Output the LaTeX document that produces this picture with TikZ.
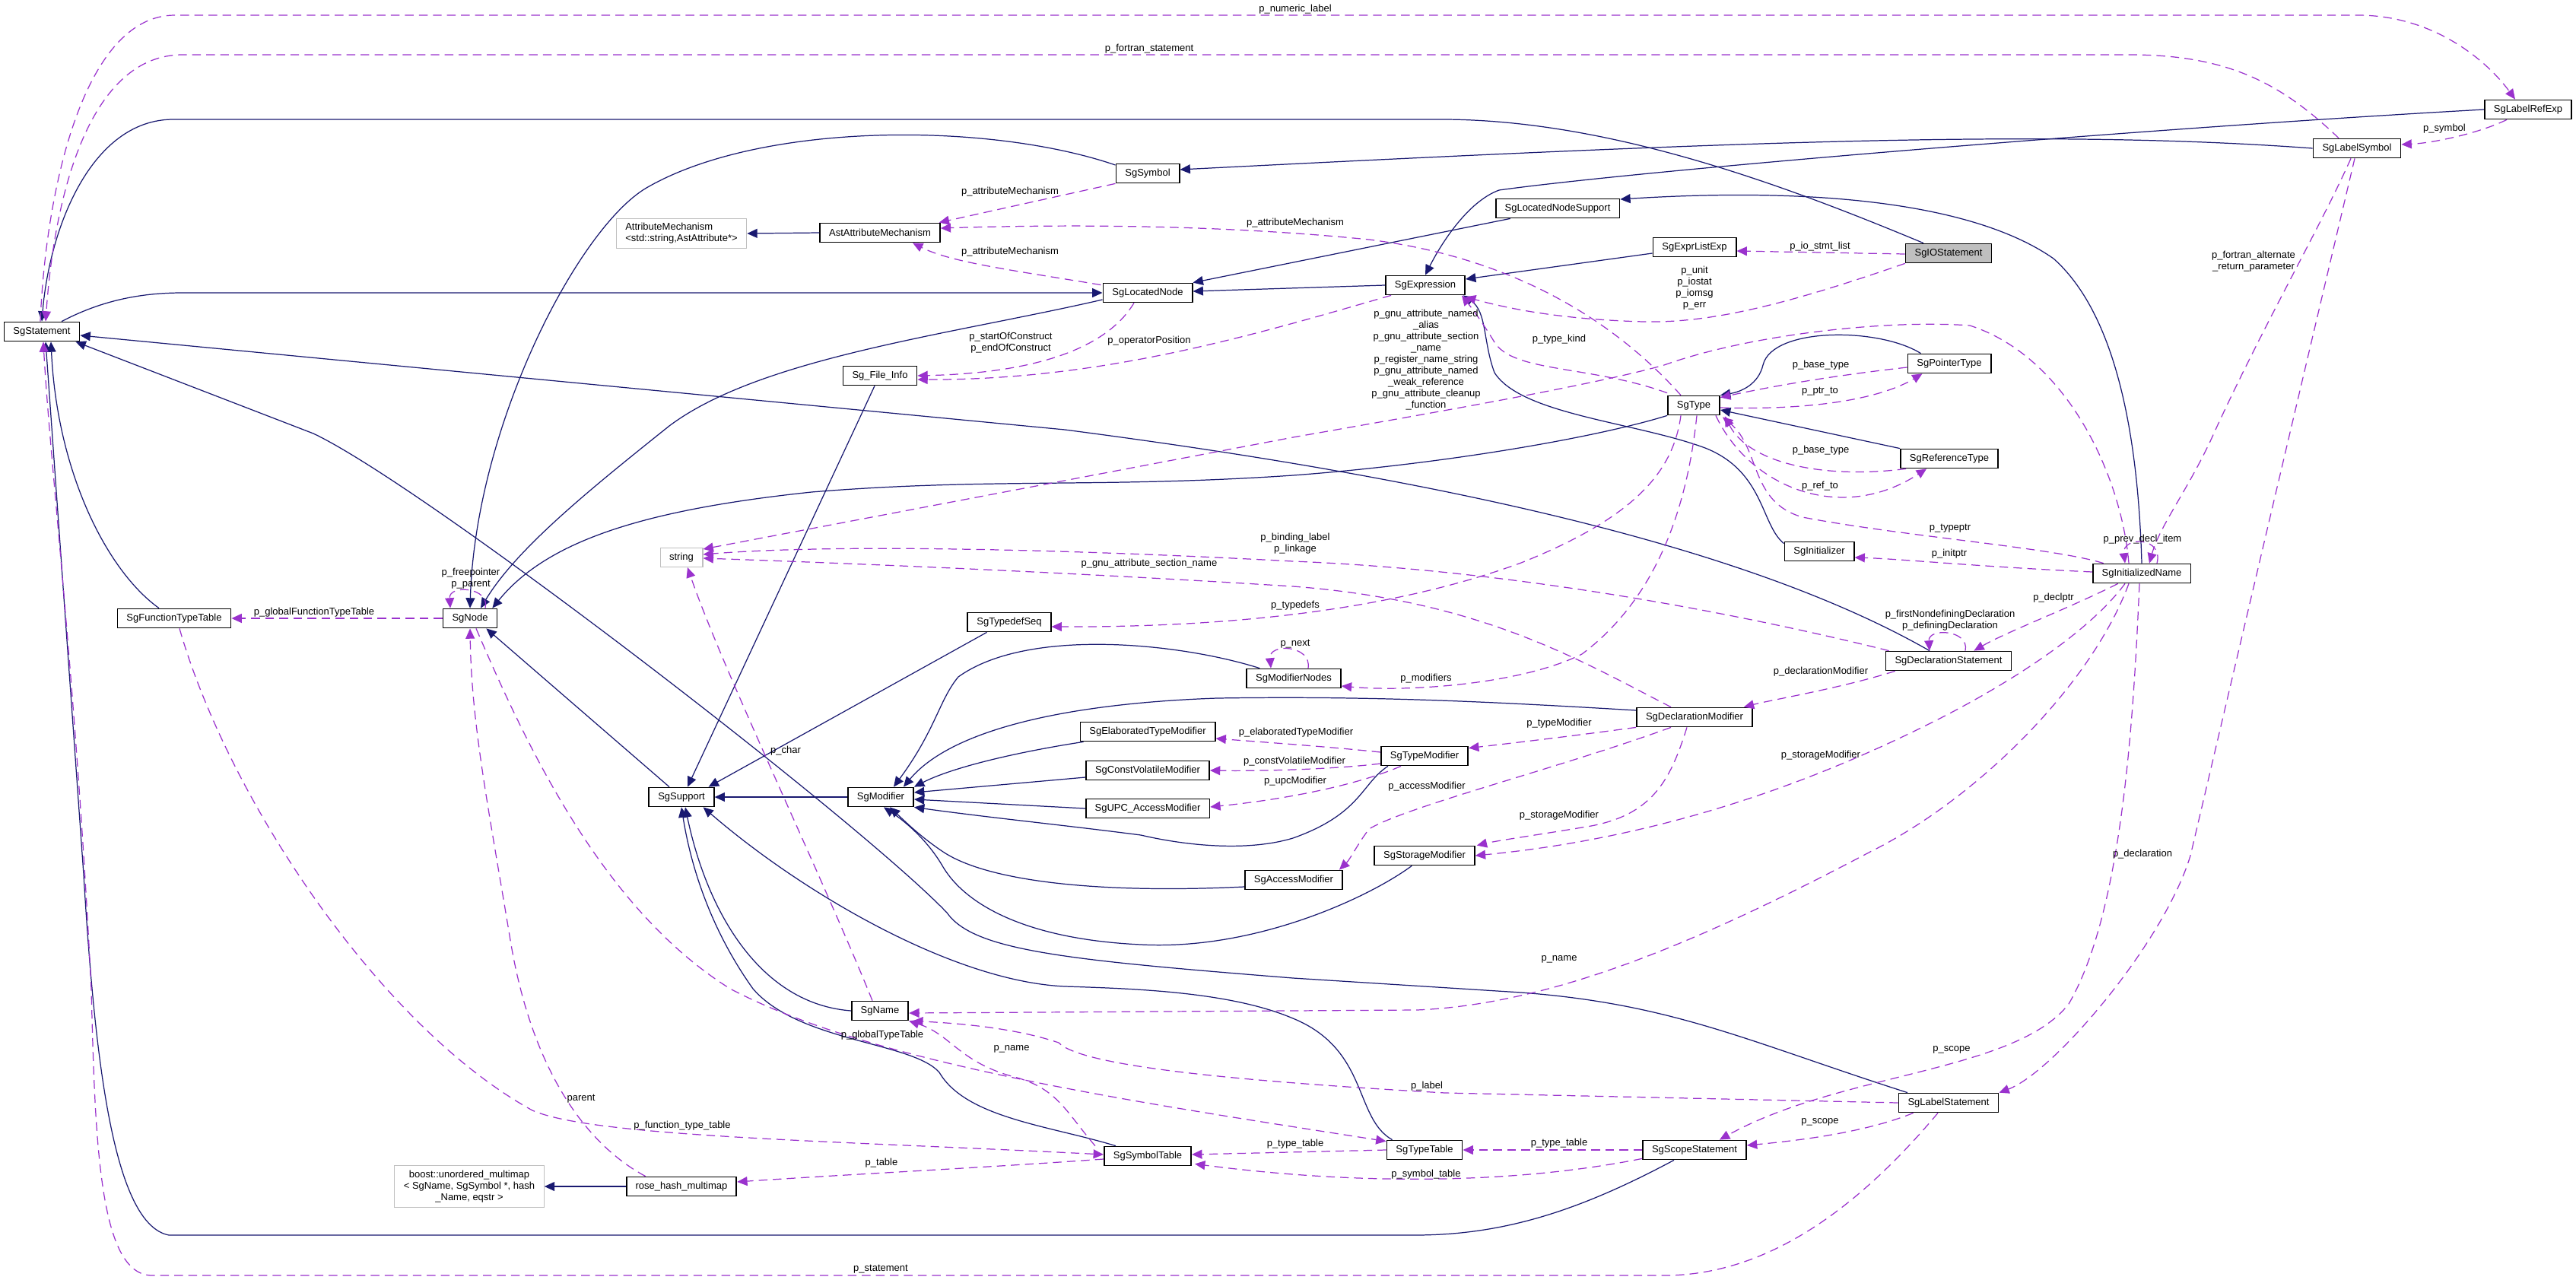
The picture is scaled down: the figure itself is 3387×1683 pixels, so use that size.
\documentclass[tikz,border=0pt]{standalone}
\usepackage{fontspec}
\setmainfont{Liberation Sans}
\usepackage{tikz}
\usetikzlibrary{arrows.meta, calc}
\definecolor{dxnavy}{RGB}{25,25,112}
\definecolor{dxorchid}{RGB}{154,50,205}
\definecolor{dxgray}{RGB}{191,191,191}

\begin{document}
\begin{tikzpicture}[
  x=0.02cm, y=-0.02cm,
  cls/.style={rectangle, draw=black, line width=1pt, fill=white,
              minimum height=0.5cm, inner xsep=0.24cm, inner ysep=0pt,
              font=\fontsize{7.4}{8.5}\selectfont},
  ext/.style={cls, draw=dxgray, line width=0.7pt},
  cur/.style={cls, fill=dxgray},
  lab/.style={inner sep=0pt, align=center, font=\fontsize{7.4}{8.5}\selectfont},
  inh/.style={draw=dxnavy, line width=0.7pt, -{Triangle[length=7.6pt, width=6.8pt]}},
  use/.style={draw=dxorchid, line width=0.7pt, dash pattern=on 6.5pt off 4pt,
              -{Triangle[length=7.6pt, width=6.8pt]}}
]
  \useasboundingbox (0,0) rectangle (3387,1683);

  %% --- Class boxes ---
  \node[cls] (stmt)          at (55,436)    {SgStatement};
  \node[ext, minimum height=0.78cm, align=left]
    (attrmech) at (896,307) {AttributeMechanism\\<std::string,AstAttribute*>};
  \node[cls] (astattr)       at (1157,306)  {AstAttributeMechanism};
  \node[cls] (symbol)        at (1509,228)  {SgSymbol};
  \node[cls] (locnode)       at (1509,385)  {SgLocatedNode};
  \node[cls] (fileinfo)      at (1157,494)  {Sg\_File\_Info};
  \node[cls] (locsupport)    at (2048,274)  {SgLocatedNodeSupport};
  \node[cls] (exprlist)      at (2228,325)  {SgExprListExp};
  \node[cls] (expr)          at (1874,375)  {SgExpression};
  \node[cur] (iostmt)        at (2562,333)  {SgIOStatement};
  \node[cls] (sgtype)        at (2227,533)  {SgType};
  \node[cls] (pointer)       at (2563,478)  {SgPointerType};
  \node[cls] (labelref)      at (3324,144)  {SgLabelRefExp};
  \node[cls] (labelsym)      at (3099,195)  {SgLabelSymbol};
  \node[cls] (scopestmt)     at (2228,1512) {SgScopeStatement};
  \node[cls] (typetable)     at (1873,1512) {SgTypeTable};
  \node[cls] (labelstmt)     at (2562,1450) {SgLabelStatement};
  \node[cls] (storagemod)    at (1873,1125) {SgStorageModifier};
  \node[cls] (accessmod)     at (1701,1157) {SgAccessModifier};
  \node[cls] (sgname)        at (1157,1329) {SgName};
  \node[cls] (symtable)      at (1509,1520) {SgSymbolTable};
  \node[cls] (rosehash)      at (896,1560)  {rose\_hash\_multimap};
  \node[ext, minimum height=1.1cm, align=center]
    (boostmap) at (617,1560) {boost::unordered\_multimap\\< SgName, SgSymbol *, hash\\\_Name, eqstr >};
  \node[cls] (functypetable) at (229,813)   {SgFunctionTypeTable};
  \node[cls] (sgnode)        at (618,813)   {SgNode};
  \node[ext] (sgstring)      at (896,733)   {string};
  \node[cls] (typedefseq)    at (1327,818)  {SgTypedefSeq};
  \node[cls] (modnodes)      at (1701,892)  {SgModifierNodes};
  \node[cls] (support)       at (896,1048)  {SgSupport};
  \node[cls] (modifier)      at (1158,1048) {SgModifier};
  \node[cls] (elabmod)       at (1509,962)  {SgElaboratedTypeModifier};
  \node[cls] (cvmod)         at (1509,1013) {SgConstVolatileModifier};
  \node[cls] (upcmod)        at (1509,1063) {SgUPC\_AccessModifier};
  \node[cls] (reftype)       at (2563,603)  {SgReferenceType};
  \node[cls] (initializer)   at (2392,725)  {SgInitializer};
  \node[cls] (declstmt)      at (2562,869)  {SgDeclarationStatement};
  \node[cls] (declmod)       at (2228,943)  {SgDeclarationModifier};
  \node[cls] (typemod)       at (1873,994)  {SgTypeModifier};
  \node[cls] (initname)      at (2816,754)  {SgInitializedName};

  %% --- Inheritance (navy) ---
  \draw[inh] ($(iostmt.north)+(-33,0)$) .. controls (2350,245) and (2117,157) .. (1895,157)
    -- (228,157) .. controls (120,157) and (65,300) .. (stmt.north);
  \draw[inh] ($(stmt.north)+(26,0)$) .. controls (130,397) and (180,385) .. (240,385) -- (locnode.west);
  \draw[inh] ($(locnode.west)+(0,9)$) .. controls (1250,440) and (1000,470) .. (880,560)
    .. controls (780,640) and (680,720) .. ($(sgnode.north)+(14,0)$);
  \draw[inh] (expr.west) -- ($(locnode.east)+(0,-2)$);
  \draw[inh] ($(exprlist.west)+(0,8)$) -- ($(expr.east)+(0,-8)$);
  \draw[inh] (labelref.west) .. controls (2800,170) and (2150,225) .. (1971,250)
    .. controls (1930,265) and (1895,320) .. (expr.north);
  \draw[inh] ($(symbol.west)+(0,-11)$) .. controls (1300,160) and (1000,160) .. (850,247)
    .. controls (760,300) and (625,560) .. (sgnode.north);
  \draw[inh] (labelsym.west) .. controls (2700,170) and (2300,185) .. ($(symbol.east)+(0,-5)$);
  \draw[inh] ($(locsupport.south west)+(20,0)$) -- (locnode.north east);
  \draw[inh] (initname.north) .. controls (2812,600) and (2790,420) .. (2700,340)
    .. controls (2600,270) and (2400,245) .. ($(locsupport.east)+(0,-12)$);
  \draw[inh] ($(declstmt.north)+(-25,0)$) .. controls (2300,720) and (1900,630) .. (1400,565)
    -- ($(stmt.east)+(0,5)$);
  \draw[inh] ($(labelstmt.north)+(-54,0)$) .. controls (2300,1370) and (2200,1320) .. (2000,1305)
    -- (1700,1286) .. controls (1400,1262) and (1280,1250) .. (1245,1200)
    .. controls (1130,1080) and (560,640) .. (412,570) -- ($(stmt.south east)+(-6,0)$);
  \draw[inh] ($(scopestmt.south)+(-27,0)$) .. controls (2080,1590) and (1980,1624) .. (1860,1624)
    -- (222,1624) .. controls (150,1610) and (125,1400) .. (110,1150) -- ($(stmt.south)+(5,0)$);
  \draw[inh] ($(functypetable.north)+(-20,0)$) .. controls (140,750) and (75,620) .. ($(stmt.south)+(12,0)$);
  \draw[inh] (sgtype.south west) .. controls (2100,575) and (1900,610) .. (1700,625)
    .. controls (1450,642) and (1300,628) .. (1067,647)
    .. controls (850,670) and (720,710) .. ($(sgnode.north east)+(-7,0)$);
  \draw[inh] ($(pointer.north west)+(18,0)$) .. controls (2470,430) and (2330,430) .. (2318,480)
    .. controls (2312,505) and (2290,515) .. (sgtype.north east);
  \draw[inh] (reftype.north west) -- ($(sgtype.east)+(0,6)$);
  \draw[inh] ($(initializer.north west)+(0,3)$) .. controls (2315,690) and (2320,620) .. (2242,589)
    .. controls (2150,555) and (2000,545) .. (1965,490)
    .. controls (1950,450) and (1955,410) .. ($(expr.south east)+(-3,0)$);
  \draw[inh] ($(support.north)+(-16,0)$) -- ($(sgnode.south east)+(-15,0)$);
  \draw[inh] ($(fileinfo.south)+(-7,0)$) -- ($(support.north)+(8,0)$);
  \draw[inh] ($(typedefseq.south west)+(26,0)$) -- ($(support.north east)+(-8,0)$);
  \draw[inh] (modifier.west) -- (support.east);
  \draw[inh] ($(modnodes.north west)+(18,0)$) .. controls (1550,845) and (1350,825) .. (1260,890)
    .. controls (1235,920) and (1230,960) .. ($(modifier.north)+(17,0)$);
  \draw[inh] ($(declmod.west)+(0,-9)$) .. controls (1950,922) and (1800,915) .. (1600,918)
    .. controls (1400,925) and (1250,960) .. ($(modifier.north east)+(-14,0)$);
  \draw[inh] ($(elabmod.south west)+(5,0)$) .. controls (1330,990) and (1250,1010) .. (modifier.north east);
  \draw[inh] ($(cvmod.west)+(0,9)$) -- ($(modifier.east)+(0,-6)$);
  \draw[inh] (upcmod.west) -- ($(modifier.east)+(0,3)$);
  \draw[inh] ($(typemod.south west)+(10,0)$) .. controls (1790,1030) and (1790,1070) .. (1700,1102)
    .. controls (1640,1120) and (1560,1112) .. (1500,1098)
    .. controls (1400,1085) and (1300,1075) .. (modifier.south east);
  \draw[inh] ($(accessmod.west)+(0,9)$) .. controls (1450,1175) and (1300,1160) .. (1240,1120)
    .. controls (1210,1100) and (1190,1080) .. ($(modifier.south)+(12,0)$);
  \draw[inh] ($(storagemod.south west)+(50,0)$) .. controls (1800,1180) and (1650,1250) .. (1500,1242)
    .. controls (1350,1235) and (1270,1190) .. (1240,1140)
    .. controls (1220,1105) and (1190,1080) .. ($(modifier.south)+(4,0)$);
  \draw[inh] (sgname.west) .. controls (1000,1320) and (930,1200) .. ($(support.south)+(5,0)$);
  \draw[inh] ($(symtable.north west)+(16,0)$) .. controls (1380,1480) and (1270,1470) .. (1235,1410)
    .. controls (1200,1370) and (1050,1370) .. (990,1300)
    .. controls (940,1230) and (910,1150) .. (support.south);
  \draw[inh] ($(typetable.north west)+(8,0)$) .. controls (1780,1470) and (1800,1380) .. (1700,1339)
    .. controls (1620,1305) and (1500,1300) .. (1400,1297)
    .. controls (1250,1290) and (1050,1170) .. ($(support.south east)+(-15,0)$);
  \draw[inh] (rosehash.west) -- (boostmap.east);
  \draw[inh] (astattr.west) -- (attrmech.east);

  %% --- Members (dashed) ---
  \draw[use] ($(stmt.north)+(-2,0)$) .. controls (60,250) and (110,20) .. (230,20)
    -- (3100,20) .. controls (3200,20) and (3270,80) .. ($(labelref.north)+(-17,0)$);
  \draw[use] ($(labelsym.north)+(-24,0)$) .. controls (3000,110) and (2930,72) .. (2800,72)
    -- (240,72) .. controls (120,72) and (72,250) .. ($(stmt.north)+(5,0)$);
  \draw[use] (symbol.south west) -- ($(astattr.north east)+(-2,0)$);
  \draw[use] ($(locnode.north west)+(-2,3)$) .. controls (1330,355) and (1250,345) .. ($(astattr.south)+(43,0)$);
  \draw[use] ($(sgtype.north)+(-17,0)$) .. controls (2130,430) and (2000,340) .. (1800,315)
    .. controls (1600,295) and (1400,295) .. ($(astattr.east)+(0,-6)$);
  \draw[use] ($(locnode.south)+(-18,0)$) .. controls (1460,450) and (1380,490) .. (fileinfo.east);
  \draw[use] ($(expr.south west)+(8,0)$) .. controls (1650,440) and (1450,500) .. ($(fileinfo.east)+(0,5)$);
  \draw[use] ($(iostmt.west)+(0,1)$) -- ($(exprlist.east)+(0,5)$);
  \draw[use] (iostmt.south west) .. controls (2350,400) and (2250,425) .. (2161,423)
    .. controls (2050,420) and (1980,405) .. ($(expr.south east)+(0,2)$);
  \draw[use] ($(sgtype.north west)+(0,-3)$) .. controls (2090,480) and (1990,490) .. (1965,450)
    .. controls (1950,425) and (1935,405) .. ($(expr.south east)+(-5,0)$);
  \draw[use] ($(labelref.south)+(-28,0)$) .. controls (3260,175) and (3200,188) .. ($(labelsym.east)+(0,-5)$);
  \draw[use] ($(labelsym.south)+(-8,0)$) .. controls (3050,300) and (2980,420) .. (2913,565)
    .. controls (2880,640) and (2840,690) .. ($(initname.north)+(10,0)$);
  \draw[use] ($(labelsym.south)+(-3,0)$) .. controls (3024,513) and (2952,819) .. (2880,1125)
    .. controls (2845,1240) and (2700,1410) .. (labelstmt.north east);
  \draw[use] ($(initname.north)+(20,0)$) .. controls (2845,705) and (2790,705) .. ($(initname.north)+(-22,0)$);
  \draw[use] ($(initname.north)+(-17,0)$) .. controls (2790,630) and (2720,470) .. (2590,428)
    .. controls (2480,420) and (2300,440) .. (2188,480)
    .. controls (2100,505) and (1900,540) .. (1700,575) -- ($(sgstring.east)+(0,-11)$);
  \draw[use] ($(declstmt.north west)+(5,0)$) .. controls (2300,810) and (2000,750) .. (1700,738)
    .. controls (1400,722) and (1100,715) .. ($(sgstring.east)+(0,-4)$);
  \draw[use] ($(declmod.north)+(-31,0)$) .. controls (2080,870) and (1950,790) .. (1700,771)
    .. controls (1400,752) and (1100,740) .. ($(sgstring.east)+(0,1)$);
  \draw[use] ($(sgtype.south)+(-17,0)$) .. controls (2200,620) and (2150,680) .. (2000,740)
    .. controls (1850,795) and (1650,825) .. ($(typedefseq.east)+(0,6)$);
  \draw[use] ($(sgtype.south)+(4,0)$) .. controls (2215,700) and (2160,800) .. (2080,860)
    .. controls (2000,900) and (1850,910) .. ($(modnodes.east)+(0,10)$);
  \draw[use] ($(modnodes.north)+(19,0)$) .. controls (1725,848) and (1668,845) .. ($(modnodes.north)+(-30,0)$);
  \draw[use] ($(declstmt.north)+(22,0)$) .. controls (2590,828) and (2535,825) .. ($(declstmt.north)+(-25,0)$);
  \draw[use] ($(sgnode.north)+(20,0)$) .. controls (645,772) and (590,768) .. ($(sgnode.north)+(-26,0)$);
  \draw[use] ($(initname.north west)+(15,0)$) .. controls (2700,720) and (2500,705) .. (2370,680)
    .. controls (2300,660) and (2315,590) .. ($(sgtype.south east)+(3,2)$);
  \draw[use] ($(sgtype.south east)+(-6,0)$) .. controls (2300,640) and (2420,690) .. ($(reftype.south west)+(35,0)$);
  \draw[use] ($(reftype.south west)+(8,0)$) .. controls (2400,630) and (2300,610) .. ($(sgtype.south east)+(6,1)$);
  \draw[use] ($(pointer.west)+(0,5)$) .. controls (2400,495) and (2320,510) .. ($(sgtype.north east)+(0,3)$);
  \draw[use] ($(sgtype.east)+(0,3)$) .. controls (2400,540) and (2480,520) .. ($(pointer.south west)+(20,0)$);
  \draw[use] ($(initname.west)+(0,-2)$) .. controls (2600,745) and (2500,735) .. ($(initializer.east)+(0,8)$);
  \draw[use] ($(initname.south west)+(34,0)$) .. controls (2720,800) and (2640,830) .. ($(declstmt.north east)+(-50,0)$);
  \draw[use] ($(declstmt.south west)+(13,0)$) .. controls (2420,905) and (2330,920) .. ($(declmod.north east)+(-12,0)$);
  \draw[use] (declmod.south west) .. controls (2050,970) and (1980,978) .. ($(typemod.north east)+(0,3)$);
  \draw[use] ($(typemod.west)+(0,-5)$) .. controls (1750,982) and (1650,975) .. ($(elabmod.east)+(0,9)$);
  \draw[use] ($(typemod.west)+(0,10)$) .. controls (1750,1012) and (1650,1014) .. (cvmod.east);
  \draw[use] ($(typemod.south west)+(27,0)$) .. controls (1790,1030) and (1700,1050) .. ($(upcmod.east)+(0,-2)$);
  \draw[use] ($(declmod.south)+(-31,0)$) .. controls (2050,1010) and (1850,1060) .. (1800,1090)
    .. controls (1785,1110) and (1775,1130) .. ($(accessmod.north east)+(-5,0)$);
  \draw[use] ($(declmod.south)+(-10,0)$) .. controls (2195,1030) and (2170,1075) .. (2080,1088)
    .. controls (2020,1098) and (1970,1105) .. ($(storagemod.north east)+(2,0)$);
  \draw[use] ($(initname.south)+(-22,0)$) .. controls (2740,840) and (2620,910) .. (2540,950)
    .. controls (2400,1020) and (2200,1100) .. (storagemod.east);
  \draw[use] ($(initname.south)+(-17,0)$) .. controls (2750,900) and (2600,1050) .. (2459,1120)
    .. controls (2250,1230) and (2050,1320) .. (1863,1328) -- ($(sgname.east)+(0,3)$);
  \draw[use] ($(initname.south)+(-3,0)$) .. controls (2805,950) and (2790,1200) .. (2720,1320)
    .. controls (2650,1410) and (2420,1410) .. ($(scopestmt.north east)+(-36,0)$);
  \draw[use] ($(labelstmt.south west)+(20,0)$) .. controls (2450,1490) and (2360,1500) .. ($(scopestmt.east)+(0,-6)$);
  \draw[use] (labelstmt.west) -- (1900,1437) .. controls (1600,1420) and (1420,1400) .. (1392,1371)
    .. controls (1330,1350) and (1250,1345) .. ($(sgname.south east)+(5,0)$);
  \draw[use] ($(symtable.north west)+(-11,0)$) .. controls (1400,1460) and (1390,1430) .. (1330,1415)
    .. controls (1260,1395) and (1250,1360) .. (sgname.south east);
  \draw[use] (sgnode.west) -- (functypetable.east);
  \draw[use] ($(functypetable.south)+(7,0)$) .. controls (300,1050) and (500,1350) .. (700,1460)
    .. controls (780,1495) and (1100,1500) .. ($(symtable.west)+(0,-2)$);
  \draw[use] ($(rosehash.north west)+(26,0)$) .. controls (780,1510) and (700,1420) .. (670,1230)
    .. controls (640,1050) and (620,950) .. (sgnode.south);
  \draw[use] ($(sgnode.south)+(8,0)$) .. controls (700,1000) and (800,1200) .. (960,1300)
    .. controls (1150,1400) and (1500,1450) .. ($(typetable.north west)+(0,2)$);
  \draw[use] ($(sgname.north)+(-10,0)$) .. controls (1080,1150) and (950,880) .. ($(sgstring.south)+(8,0)$);
  \draw[use] ($(symtable.west)+(0,4)$) .. controls (1300,1535) and (1100,1545) .. ($(rosehash.east)+(0,-6)$);
  \draw[use] (typetable.west) -- ($(symtable.east)+(0,-2)$);
  \draw[use] (scopestmt.west) -- (typetable.east);
  \draw[use] ($(scopestmt.south west)+(0,-2)$) .. controls (2000,1555) and (1800,1560) .. ($(symtable.south east)+(4,-3)$);
  \draw[use] ($(labelstmt.south)+(-14,0)$) .. controls (2450,1580) and (2330,1677) .. (2188,1677)
    -- (200,1677) .. controls (130,1677) and (125,1500) .. (120,1300)
    .. controls (100,900) and (65,600) .. ($(stmt.south)+(2,0)$);

  %% --- Edge labels ---
  \node[lab] (lnumlabel)  at (1703,12)   {p\_numeric\_label};
  \node[lab] (lfortstmt)  at (1511,64)   {p\_fortran\_statement};
  \node[lab] (lattrsym)   at (1328,252)  {p\_attributeMechanism};
  \node[lab] (lattrloc)   at (1328,331)  {p\_attributeMechanism};
  \node[lab] (lattrtype)  at (1703,293)  {p\_attributeMechanism};
  \node[lab] (lconstruct) at (1329,451)  {p\_startOfConstruct\\p\_endOfConstruct};
  \node[lab] (loppos)     at (1511,448)  {p\_operatorPosition};
  \node[lab] (liolist)    at (2393,324)  {p\_io\_stmt\_list};
  \node[lab] (lunit)      at (2228,379)  {p\_unit\\p\_iostat\\p\_iomsg\\p\_err};
  \node[lab] (lgnu)       at (1875,473)  {p\_gnu\_attribute\_named\\\_alias\\p\_gnu\_attribute\_section\\\_name\\p\_register\_name\_string\\p\_gnu\_attribute\_named\\\_weak\_reference\\p\_gnu\_attribute\_cleanup\\\_function};
  \node[lab] (ltypekind)  at (2050,446)  {p\_type\_kind};
  \node[lab] (lptrbase)   at (2394,480)  {p\_base\_type};
  \node[lab] (lptrto)     at (2393,515)  {p\_ptr\_to};
  \node[lab] (lsymbol)    at (3214,169)  {p\_symbol};
  \node[lab] (lfortalt)   at (2963,344)  {p\_fortran\_alternate\\\_return\_parameter};
  \node[lab] (lrefbase)   at (2394,592)  {p\_base\_type};
  \node[lab] (lrefto)     at (2393,639)  {p\_ref\_to};
  \node[lab] (ltypeptr)   at (2564,695)  {p\_typeptr};
  \node[lab] (linitptr)   at (2563,728)  {p\_initptr};
  \node[lab] (lprevdecl)  at (2817,709)  {p\_prev\_decl\_item};
  \node[lab] (lfree)      at (619,761)   {p\_freepointer\\p\_parent};
  \node[lab] (lglobfunc)  at (413,805)   {p\_globalFunctionTypeTable};
  \node[lab] (lbinding)   at (1703,715)  {p\_binding\_label\\p\_linkage};
  \node[lab] (lsection)   at (1511,741)  {p\_gnu\_attribute\_section\_name};
  \node[lab] (ltypedefs)  at (1703,796)  {p\_typedefs};
  \node[lab] (lnext)      at (1703,847)  {p\_next};
  \node[lab] (lmodifiers) at (1875,892)  {p\_modifiers};
  \node[lab] (ldefdecl)   at (2564,816)  {p\_firstNondefiningDeclaration\\p\_definingDeclaration};
  \node[lab] (ldeclptr)   at (2700,786)  {p\_declptr};
  \node[lab] (ldeclmod)   at (2394,883)  {p\_declarationModifier};
  \node[lab] (ltypemod)   at (2050,951)  {p\_typeModifier};
  \node[lab] (lelab)      at (1704,963)  {p\_elaboratedTypeModifier};
  \node[lab] (lcv)        at (1702,1001) {p\_constVolatileModifier};
  \node[lab] (lupc)       at (1703,1027) {p\_upcModifier};
  \node[lab] (laccess)    at (1876,1034) {p\_accessModifier};
  \node[lab] (lstorinit)  at (2394,993)  {p\_storageModifier};
  \node[lab] (lstordecl)  at (2050,1072) {p\_storageModifier};
  \node[lab] (lchar)      at (1033,987)  {p\_char};
  \node[lab] (ldecl)      at (2817,1123) {p\_declaration};
  \node[lab] (lname)      at (2050,1261) {p\_name};
  \node[lab] (lscopeinit) at (2566,1380) {p\_scope};
  \node[lab] (llabel)     at (1876,1428) {p\_label};
  \node[lab] (lscopelab)  at (2393,1475) {p\_scope};
  \node[lab] (ltypetab)   at (2050,1503) {p\_type\_table};
  \node[lab] (ltypetabsym) at (1703,1504) {p\_type\_table};
  \node[lab] (lsymtab)    at (1875,1544) {p\_symbol\_table};
  \node[lab] (lglobtype)  at (1160,1361) {p\_globalTypeTable};
  \node[lab] (lsymname)   at (1330,1379) {p\_name};
  \node[lab] (lfunctab)   at (897,1480)  {p\_function\_type\_table};
  \node[lab] (ltable)     at (1159,1529) {p\_table};
  \node[lab] (lparent)    at (764,1445)  {parent};
  \node[lab] (lstatement) at (1158,1669) {p\_statement};
\end{tikzpicture}
\end{document}
